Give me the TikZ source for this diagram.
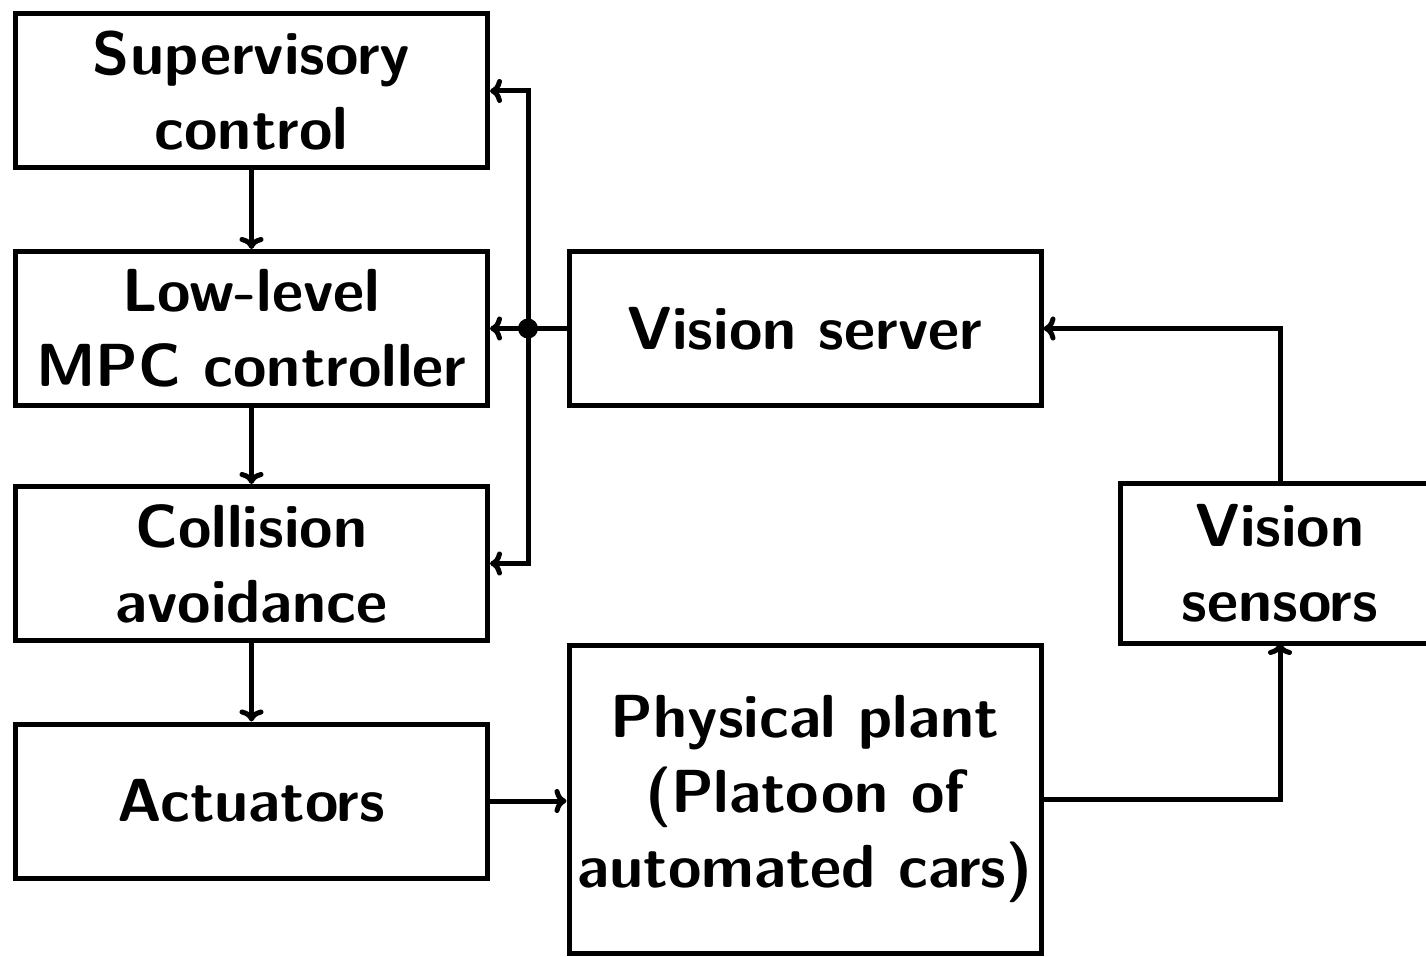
\documentclass[tikz,border=0pt]{standalone}
\usetikzlibrary{arrows.meta}
\begin{document}
\begin{tikzpicture}[x=0.5pt,y=-0.5pt,
  blk/.style={draw,line width=2.5pt,minimum width=236pt,minimum height=77pt,
    align=center,inner sep=0pt,font=\fontsize{30.4}{37.5}\selectfont\sffamily\bfseries},
  link/.style={line width=2.5pt,-{To[length=6pt,width=12pt]}},
  wire/.style={line width=2.5pt}]
  \clip (0,0) rectangle (1426,957);
  % control chain on the left
  \node[blk] (sup) at (251.5,91) {Supervisory\\control};
  \node[blk] (mpc) at (251.5,328.5) {Low-level\\MPC controller};
  \node[blk] (col) at (251.5,563.5) {Collision\\avoidance};
  \node[blk] (act) at (251.5,801) {Actuators};
  % plant and sensing loop
  \node[blk] (vsrv) at (805,328.5) {Vision server};
  \node[blk,minimum height=154pt] (plant) at (805,799) {Physical plant\\(Platoon of\\automated cars)};
  \node[blk,draw=none,minimum width=157.5pt] (vsen) at (1280,563.5) {Vision\\sensors};
  % the sensor box runs on past the right margin
  \draw[wire] (vsen.north west) rectangle ([xshift=30pt]vsen.south east);
  % distribution bus
  \coordinate (bus) at (528,328.5);
  \fill (bus) circle (5pt);
  \draw[wire] (vsrv.west) -- (bus);
  \draw[link] (bus) -- (mpc.east);
  \draw[link] (bus) |- (sup.east);
  \draw[link] (bus) |- (col.east);
  % downward flow
  \draw[link] (sup) -- (mpc);
  \draw[link] (mpc) -- (col);
  \draw[link] (col) -- (act);
  \draw[link] (act) -- (act -| plant.west);
  % feedback through the sensors
  \draw[link] (plant.east) -| (vsen.south);
  \draw[link] (vsen.north) |- (vsrv.east);
\end{tikzpicture}
\end{document}
